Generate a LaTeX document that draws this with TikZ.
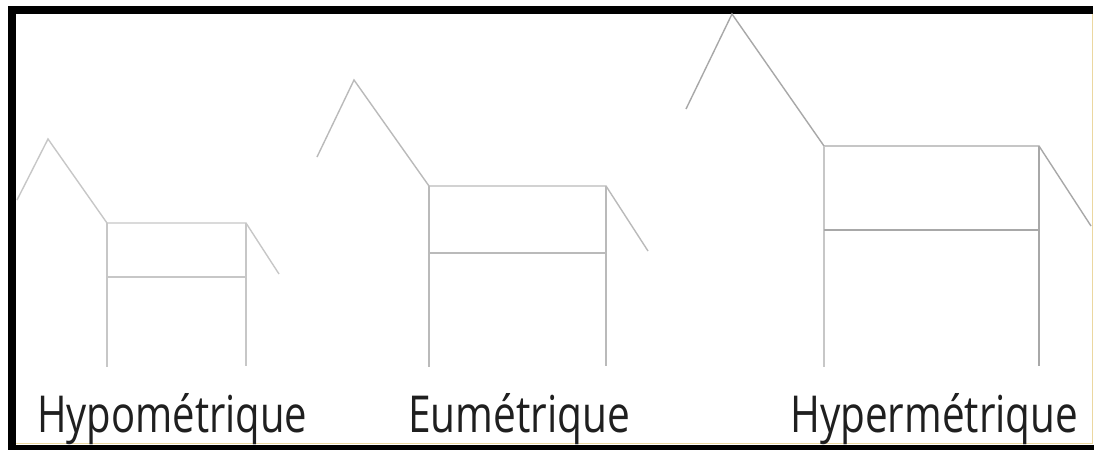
\documentclass[tikz,border=0pt]{standalone}
\usepackage{fontspec}
\setmainfont{Open Sans}
\usepackage{graphicx}
\tikzset{
  horseA/.style={draw=black!22, line width=1.4pt},
  horseB/.style={draw=black!27, line width=1.4pt},
  horseC/.style={draw=black!34, line width=1.4pt},
  belly/.style={line width=2.2pt},
  lbl/.style={anchor=base west, inner sep=0pt, text=black!88},
}
\begin{document}
\begin{tikzpicture}[x=1pt,y=-1pt]
\useasboundingbox (0,0) rectangle (1094,450);
\fill[white] (0,0) rectangle (1094,450);
% frame
\fill[black] (8,6) rectangle (16,450);
\fill[black] (8,6) rectangle (1093,14);
\fill[black] (8,445) rectangle (1094,450);
\draw[draw={rgb,255:red,235;green,215;blue,160}, line width=1.2pt] (16,443.5) -- (1092.4,443.5) -- (1092.4,14);
% horse 1 (hypometrique)
\coordinate (h1) at (17,200);
\coordinate (a1) at (48,139);
\coordinate (n1) at (107,223);
\coordinate (r1) at (246,223);
\coordinate (t1) at (279,274);
\coordinate (m1l) at (107,277);
\coordinate (m1r) at (246,277);
\coordinate (f1) at (107,367);
\coordinate (b1) at (246,366);
\draw[horseA] (h1) -- (a1) -- (n1) -- (r1) -- (t1);
\draw[horseA] (n1) -- (f1);
\draw[horseA] (r1) -- (b1);
\draw[horseA,belly] (m1l) -- (m1r);
% horse 2 (eumetrique)
\coordinate (h2) at (317,157);
\coordinate (a2) at (354,80);
\coordinate (n2) at (429,186);
\coordinate (r2) at (606,186);
\coordinate (t2) at (648,251);
\coordinate (m2l) at (429,253);
\coordinate (m2r) at (606,253);
\coordinate (f2) at (429,367);
\coordinate (b2) at (606,366);
\draw[horseB] (h2) -- (a2) -- (n2) -- (r2) -- (t2);
\draw[horseB] (n2) -- (f2);
\draw[horseB] (r2) -- (b2);
\draw[horseB,belly] (m2l) -- (m2r);
% horse 3 (hypermetrique)
\coordinate (h3) at (686,109);
\coordinate (a3) at (732,14);
\coordinate (n3) at (824,146);
\coordinate (r3) at (1039,146);
\coordinate (t3) at (1091,226);
\coordinate (m3l) at (824,230);
\coordinate (m3r) at (1039,230);
\coordinate (f3) at (824,367);
\coordinate (b3) at (1039,366);
\draw[horseC] (h3) -- (a3) -- (n3) -- (r3) -- (t3);
\draw[horseC,draw=black!22] (n3) -- (f3);
\draw[horseC] (r3) -- (b3);
\draw[horseC,belly] (m3l) -- (m3r);
% labels
\node[lbl] (L1) at (37,432) {\resizebox{270pt}{39pt}{Hypométrique}};
\node[lbl] (L2) at (408,432) {\resizebox{222pt}{39pt}{Eumétrique}};
\node[lbl] (L3) at (790,432) {\resizebox{288pt}{39pt}{Hypermétrique}};
\end{tikzpicture}
\end{document}
